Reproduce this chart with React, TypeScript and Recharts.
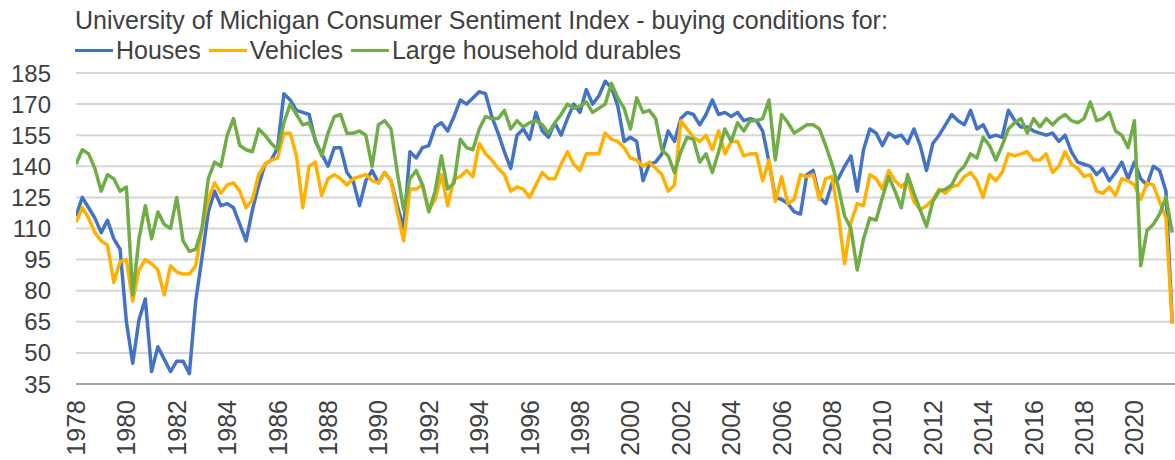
import { CartesianGrid, Line, LineChart, XAxis, YAxis } from "recharts"

const font = "'Liberation Sans', Arial, sans-serif"
const textColor = "#404040"

const title =
  "University of Michigan Consumer Sentiment Index - buying conditions for:"

// quarterly readings, first one is Q1 1978
const firstYear = 1978
const plotEnd = 2021.61 // the picture is cut off here

const yearTicks = [
  1978, 1980, 1982, 1984, 1986, 1988, 1990, 1992, 1994, 1996, 1998, 2000,
  2002, 2004, 2006, 2008, 2010, 2012, 2014, 2016, 2018, 2020,
]
const valueTicks = [35, 50, 65, 80, 95, 110, 125, 140, 155, 170, 185]

const houses = [
  116, 125, 120, 115, 108, 114, 105, 100, 65, 45, 66, 76, 41, 53, 47, 41,
  46, 46, 40, 75, 96, 118, 128, 121, 122, 120, 112, 104, 119, 131, 141, 143,
  149, 175, 172, 167, 166, 165, 152, 146, 140, 149, 149, 137, 133, 121, 133, 138,
  132, 137, 133, 121, 110, 147, 144, 149, 150, 159, 161, 157, 164, 172, 170, 173,
  176, 175, 164, 156, 147, 139, 155, 158, 153, 166, 157, 154, 161, 155, 163, 170,
  166, 177, 170, 174, 181, 178, 169, 152, 154, 152, 133, 141, 142, 146, 157, 152,
  163, 166, 165, 160, 165, 172, 165, 166, 164, 166, 162, 163, 162, 157, 142, 125,
  124, 122, 118, 117, 136, 138, 125, 122, 132, 134, 140, 145, 128, 148, 158, 156,
  150, 156, 154, 155, 151, 158, 150, 138, 151, 155, 160, 165, 162, 160, 167, 158,
  160, 154, 155, 154, 167, 162, 159, 159, 157, 156, 155, 156, 152, 155, 147, 142,
  141, 140, 136, 139, 133, 137, 142, 134, 142, 134, 131, 140, 138, 128, 65,
]

const vehicles = [
  113, 120, 115, 108, 104, 102, 84, 94, 95, 75, 90, 95, 93, 90, 78, 92,
  89, 88, 88, 92, 110, 124, 132, 127, 131, 132, 128, 120, 124, 136, 141, 143,
  144, 156, 156, 145, 120, 140, 142, 126, 134, 136, 134, 131, 134, 135, 136, 133,
  132, 137, 133, 118, 104, 129, 129, 131, 119, 124, 136, 121, 134, 135, 138, 135,
  151, 146, 143, 139, 136, 128, 130, 129, 125, 131, 137, 134, 134, 141, 147, 141,
  138, 146, 146, 146, 156, 153, 152, 149, 144, 143, 140, 142, 139, 136, 128, 131,
  162, 158, 154, 152, 155, 148, 157, 146, 152, 152, 145, 146, 146, 133, 143, 123,
  135, 122, 124, 136, 135, 136, 124, 134, 135, 117, 93, 113, 122, 121, 136, 134,
  129, 138, 133, 130, 133, 123, 119, 121, 124, 129, 127, 130, 131, 135, 137, 133,
  125, 136, 133, 137, 146, 145, 146, 147, 143, 143, 146, 137, 140, 147, 141, 139,
  135, 136, 128, 127, 130, 126, 134, 133, 131, 124, 132, 131, 123, 115, 64,
]

const durables = [
  141, 148, 146, 139, 128, 136, 134, 128, 130, 78, 105, 121, 105, 118, 112, 110,
  125, 104, 99, 100, 110, 134, 142, 140, 155, 163, 150, 148, 147, 158, 155, 151,
  148, 161, 170, 165, 160, 161, 153, 145, 156, 164, 165, 156, 156, 157, 155, 140,
  160, 162, 158, 137, 119, 134, 138, 131, 118, 128, 145, 129, 132, 153, 149, 148,
  158, 164, 163, 163, 167, 158, 162, 159, 161, 162, 160, 156, 161, 165, 170, 168,
  169, 171, 166, 168, 170, 180, 173, 168, 158, 173, 166, 167, 163, 148, 145, 137,
  147, 154, 153, 142, 146, 137, 147, 158, 152, 161, 157, 162, 162, 163, 172, 143,
  165, 161, 156, 158, 160, 160, 158, 150, 141, 130, 116, 110, 90, 105, 115, 114,
  125, 135, 128, 120, 136, 127, 119, 111, 123, 128, 129, 131, 137, 140, 146, 144,
  154, 150, 143, 150, 158, 161, 163, 156, 163, 159, 163, 160, 163, 165, 162, 161,
  163, 171, 162, 163, 166, 157, 155, 149, 162, 92, 109, 112, 117, 125, 108,
]

const series = [
  { key: "houses", name: "Houses", color: "#4472C4" },
  { key: "vehicles", name: "Vehicles", color: "#FFB000" },
  { key: "durables", name: "Large household durables", color: "#70AD47" },
]

const data = houses.map((h, i) => ({
  t: firstYear + i / 4,
  houses: h,
  vehicles: vehicles[i],
  durables: durables[i],
}))

function YearTick({ x, y, payload }: any) {
  return (
    <text
      x={x}
      y={y}
      dy="0.36em"
      transform={`rotate(-90, ${x}, ${y})`}
      textAnchor="end"
      fill={textColor}
      fontSize={25}
      fontFamily={font}
    >
      {payload.value}
    </text>
  )
}

export default function App() {
  return (
    <div
      style={{
        position: "absolute",
        left: 0,
        top: 0,
        width: 1175,
        height: 460,
        background: "#fff",
        fontFamily: font,
        overflow: "hidden",
      }}
    >
      <LineChart
        width={1175}
        height={460}
        data={data}
        margin={{ top: 73, right: 0, bottom: 0, left: 0 }}
      >
        <CartesianGrid vertical={false} stroke="#d6d6d6" strokeWidth={2} />
        <XAxis
          dataKey="t"
          type="number"
          domain={[firstYear, plotEnd]}
          allowDataOverflow
          ticks={yearTicks}
          interval={0}
          height={76}
          tickLine={false}
          tickSize={8}
          tickMargin={8}
          axisLine={{ stroke: "#a6a6a6", strokeWidth: 2 }}
          tick={<YearTick />}
        />
        <YAxis
          type="number"
          domain={[35, 185]}
          ticks={valueTicks}
          interval={0}
          width={76}
          axisLine={false}
          tickLine={false}
          tickSize={0}
          tickMargin={25}
          tick={{ fill: textColor, fontSize: 24, fontFamily: font }}
        />
        {series.map((s) => (
          <Line
            key={s.key}
            dataKey={s.key}
            name={s.name}
            type="linear"
            stroke={s.color}
            strokeWidth={3.5}
            strokeLinejoin="round"
            dot={false}
            isAnimationActive={false}
          />
        ))}
      </LineChart>

      <div
        style={{
          position: "absolute",
          left: 75,
          top: 5,
          fontSize: 25,
          lineHeight: "30px",
          color: textColor,
          whiteSpace: "nowrap",
        }}
      >
        {title}
      </div>
      <div
        style={{
          position: "absolute",
          left: 75,
          top: 35,
          display: "flex",
          alignItems: "center",
          fontSize: 25,
          lineHeight: "30px",
          color: textColor,
          whiteSpace: "nowrap",
        }}
      >
        {series.map((s) => (
          <span
            key={s.key}
            style={{ display: "flex", alignItems: "center", marginRight: 8 }}
          >
            <span
              style={{
                display: "inline-block",
                width: 38,
                height: 3,
                background: s.color,
                marginRight: 3,
              }}
            />
            {s.name}
          </span>
        ))}
      </div>
    </div>
  )
}
